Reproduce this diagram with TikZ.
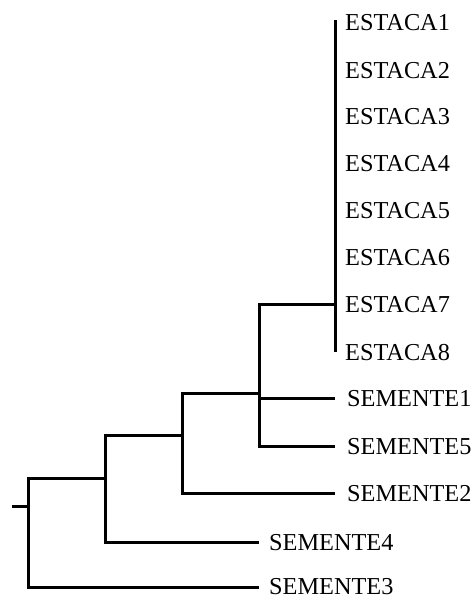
\documentclass[tikz,border=0pt]{standalone}
\usepackage{fontspec}
\setmainfont{Liberation Serif}
\begin{document}
\begin{tikzpicture}[x=1pt,y=-1pt,
  branch/.style={line width=3pt,line cap=butt,line join=miter},
  taxon/.style={anchor=west,inner xsep=0pt,inner ysep=0pt,
    font=\fontsize{24.3}{28}\selectfont,text height=16pt,text depth=0pt}]
\useasboundingbox (0,0) rectangle (473,597);

% internal nodes
\coordinate (root) at (28,506);
\coordinate (stub) at (12,506);
\coordinate (n1) at (105,478);
\coordinate (n2) at (182,435);
\coordinate (n3) at (259,393);
\coordinate (star) at (335,304);
\coordinate (startop) at (335,20);
\coordinate (starbot) at (335,352);

% tips of the terminal branches
\coordinate (tS1) at (335,398);
\coordinate (tS5) at (335,446);
\coordinate (tS2) at (335,493);
\coordinate (tS4) at (259,542);
\coordinate (tS3) at (259,587);

% taxon labels
\foreach \i/\y in {1/22,2/70,3/116,4/163,5/210,6/257,7/304,8/352}
  \node[taxon] (E\i) at (345,\y) {ESTACA\i};
\node[taxon] (S1) at (347,398) {SEMENTE1};
\node[taxon] (S5) at (347,446) {SEMENTE5};
\node[taxon] (S2) at (347,493) {SEMENTE2};
\node[taxon] (S4) at (269,542) {SEMENTE4};
\node[taxon] (S3) at (269,586) {SEMENTE3};

% branches
\draw[branch] (stub) -- (root);
\draw[branch] (n1) -| (root) |- (tS3);
\draw[branch] (n2) -| (n1) |- (tS4);
\draw[branch] (n3) -| (n2) |- (tS2);
\draw[branch] (star) -| (n3) |- (tS5);
\draw[branch] (n3 |- tS1) -- (tS1);
\draw[branch] (startop) -- (starbot);
\end{tikzpicture}
\end{document}
